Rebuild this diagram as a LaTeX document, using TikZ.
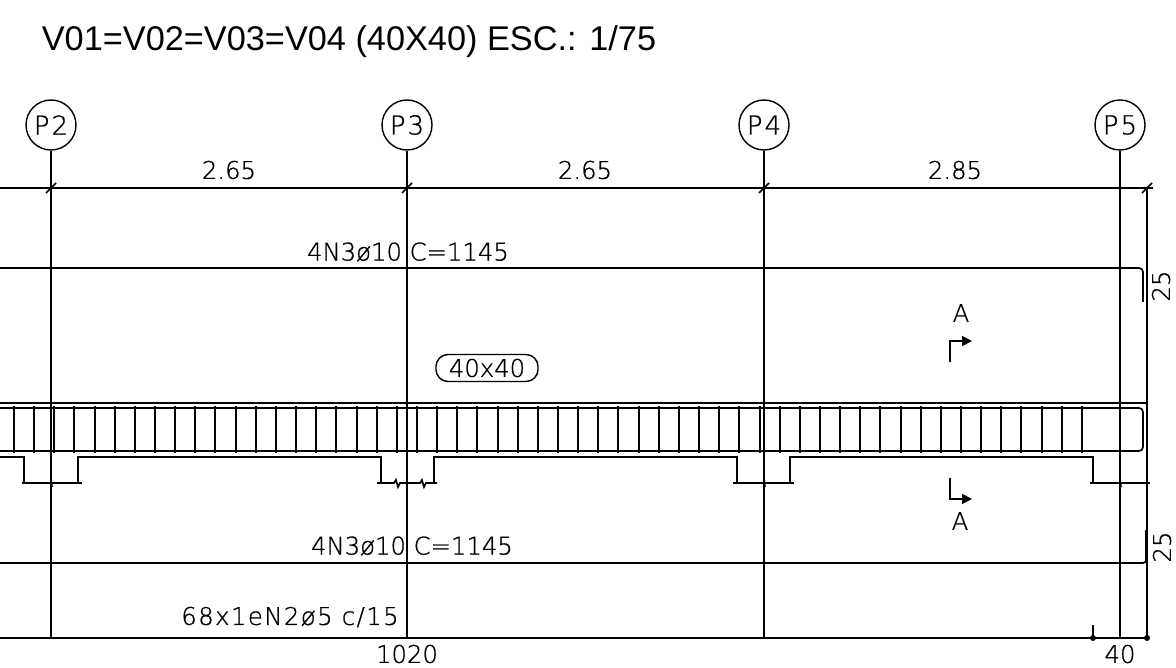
\documentclass[tikz,border=0pt]{standalone}
\usepackage{fontspec}
\usepackage{tikz}
\usetikzlibrary{arrows.meta}
\setmainfont{Liberation Sans}
\newfontfamily\cadfont[FakeBold=0.9]{DejaVu Sans ExtraLight}
\newfontfamily\cadwide[FakeBold=0.9,LetterSpace=6]{DejaVu Sans ExtraLight}
\newfontfamily\cadtag[FakeBold=0.9,LetterSpace=8]{DejaVu Sans ExtraLight}

\begin{document}
\begin{tikzpicture}[
    x=1pt, y=-1pt,
    line width=1.7pt,
    pillar/.style={draw, circle, minimum size=50pt, inner sep=0pt, line width=1.4pt, font=\cadtag\fontsize{26}{26}\selectfont},
    title/.style={inner sep=0pt, anchor=west, font=\fontsize{34.3}{34.3}\selectfont},
    cad/.style={inner sep=0pt, font=\cadfont\fontsize{24.3}{24.3}\selectfont},
    cadlong/.style={inner sep=0pt, font=\cadwide\fontsize{24.3}{24.3}\selectfont},
    tag/.style={draw, rounded corners=12pt, minimum width=102pt, minimum height=27pt, inner sep=0pt, line width=1.4pt, font=\cadfont\fontsize{24.3}{24.3}\selectfont},
    heavy/.style={line width=2.4pt},
    sect/.style={-{Triangle[length=10pt,width=10pt]}, line width=1.7pt}
]
\useasboundingbox (0,0) rectangle (1176,668);

\node[title] (heading) at (41,42) {V01=V02=V03=V04 (40X40) ESC.: 1/75};

\node[pillar] (p2) at (51,125) {P2};
\node[pillar] (p3) at (407,125) {P3};
\node[pillar] (p4) at (764,125) {P4};
\node[pillar] (p5) at (1120,125) {P5};

\coordinate (b2) at (51,638);
\coordinate (b3) at (407,638);
\coordinate (b4) at (764,638);
\coordinate (b5) at (1120,638);

\draw (p2) -- (b2);
\draw (p3) -- (b3);
\draw (p4) -- (b4);
\draw (p5) -- (b5);

\draw (0,188) -- (1153,188);
\draw (1147,188) -- (1147,638);
\draw[heavy] (51,188) -- (51,205);
\draw[heavy] (407,188) -- (407,205);
\draw[heavy] (764,188) -- (764,205);
\draw[heavy] (1147,188) -- (1147,205);
\foreach \x in {51,407,764,1147}
    \draw (\x-5,193) -- (\x+5,183);

\node[cad] (span1) at (229,170) {2.65};
\node[cad] (span2) at (585,170) {2.65};
\node[cad] (span3) at (955,170) {2.85};

\node[cad] (bartop) at (408,252) {4N3ø10 C=1145};
\draw[rounded corners=4pt] (0,268) -- (1143,268) -- (1143,302);
\node[cad, rotate=90] (lentop) at (1161,286) {25};

\node[cad] (secA) at (961,313) {A};
\draw[sect] (950,362) -- (950,341) -- (972,341);
\node[tag] (size) at (487,368) {40x40};

\draw[heavy] (0,403) -- (1147,403);
\draw[rounded corners=4pt] (0,408) -- (1143,408) -- (1143,451) -- (0,451);
\foreach \i in {0,...,53}
    \draw[line width=2pt] ({14+round(20.15*\i)},406) -- ({14+round(20.15*\i)},453);

\draw (22,483) -- (82,483);
\draw (377,483) -- (394,483) -- (396,480) -- (398,487) -- (400,483) -- (420,483) -- (422,480) -- (424,487) -- (426,483) -- (437,483);
\draw (733,483) -- (794,483);
\draw (1090,483) -- (1150,483);
\draw (0,457) -- (24,457) -- (24,483);
\draw (78,483) -- (78,457) -- (381,457) -- (381,483);
\draw (434,483) -- (434,457) -- (737,457) -- (737,483);
\draw (790,483) -- (790,457) -- (1093,457) -- (1093,483);
\foreach \x in {51,764,1120}
    \draw (\x,479) -- (\x+1,487);

\draw[sect] (950,478) -- (950,499) -- (972,499);
\node[cad] (secB) at (960,521) {A};

\node[cad] (barbot) at (412,546) {4N3ø10 C=1145};
\draw[rounded corners=3pt] (0,563) -- (1146,563) -- (1146,530);
\node[cad, rotate=90] (lenbot) at (1162,547) {25};

\node[cadlong] (stirrups) at (290,617) {68x1eN2ø5 c/15};
\draw (0,638) -- (1147,638);
\draw (1093,625) -- (1093,638);
\fill (1093,638) circle (3pt);
\fill (1147,638) circle (3pt);
\node[cad] (total) at (407,654) {1020};
\node[cad] (end) at (1120,654) {40};
\end{tikzpicture}
\end{document}
